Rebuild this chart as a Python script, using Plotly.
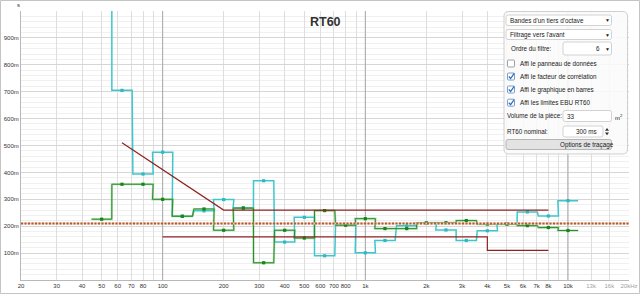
import math
import plotly.graph_objects as go

# ---------------- data ----------------
bands = [50, 63, 80, 100, 125, 160, 200, 250, 315, 400, 500, 630, 800,
         1000, 1250, 1600, 2000, 2500, 3150, 4000, 5000, 6300, 8000, 10000]
cyan_rt = [1.35, 0.705, 0.394, 0.475, 0.237, 0.257, 0.299, 0.269, 0.369, 0.141,
           0.233, 0.090, 0.204, 0.101, 0.147, 0.202, 0.212, 0.186, 0.147, 0.183,
           0.209, 0.253, 0.238, 0.295]
green_rt = [0.226, 0.356, 0.356, 0.300, 0.237, 0.264, 0.185, 0.267, 0.064, 0.185,
            0.156, 0.258, 0.204, 0.228, 0.191, 0.191, 0.212, 0.213, 0.221, 0.208,
            0.208, 0.202, 0.195, 0.184]
ebu_upper_f = [63, 200, 8000]
ebu_upper_v = [0.51, 0.26, 0.26]
ebu_lower_f = [100, 4000, 4000, 8000]
ebu_lower_v = [0.16, 0.16, 0.11, 0.11]
target_f = [20, 20000]
target_v = [0.21, 0.21]

freq_ticks = [20, 30, 40, 50, 60, 70, 80, 90, 100, 200, 300, 400, 500, 600, 700, 800, 900,
              1000, 2000, 3000, 4000, 5000, 6000, 7000, 8000, 9000, 10000, 13000, 16000, 20000]
freq_labels = ["20", "30", "40", "50", "60", "70", "80", " ", "100", "200", "300", "400", "500",
               "600", "700", "800", " ", "1k", "2k", "3k", "4k", "5k", "6k", "7k", "8k", " ",
               "10k", '<span style="color:#a0a0a0">13k</span>',
               '<span style="color:#a0a0a0">16k</span>',
               '<span style="color:#a0a0a0">20kHz</span>']
decades = [100, 1000, 10000]
y_ticks = [0, 0.1, 0.2, 0.3, 0.4, 0.5, 0.6, 0.7, 0.8, 0.9, 1.0]
y_labels = [" ", "100m", "200m", "300m", "400m", "500m", "600m", "700m", "800m", "900m", " "]

FONT = "Liberation Sans"


def step_xy(vals):
    xs, ys = [], []
    for f, v in zip(bands, vals):
        xs += [f * 10 ** -0.05, f * 10 ** 0.05]
        ys += [v, v]
    return xs, ys


fig = go.Figure()

# decade grid lines (darker)
for d in decades:
    fig.add_trace(go.Scatter(x=[d, d], y=[0, 1], mode="lines",
                             line=dict(color="#a9a9a9", width=1), hoverinfo="skip"))

cx, cy = step_xy(cyan_rt)
gx, gy = step_xy(green_rt)

fig.add_trace(go.Scatter(x=cx, y=cy, mode="lines", line=dict(color="#3fc6cc", width=1.5),
                         hoverinfo="skip"))
fig.add_trace(go.Scatter(x=bands, y=cyan_rt, mode="markers",
                         marker=dict(symbol="square", size=3.2, color="#2fb8c0"),
                         hoverinfo="skip"))
fig.add_trace(go.Scatter(x=gx, y=gy, mode="lines",
                         line=dict(color="rgba(110,190,110,0.55)", width=2.2), hoverinfo="skip"))
fig.add_trace(go.Scatter(x=gx, y=gy, mode="lines", line=dict(color="#2a8f2a", width=1),
                         hoverinfo="skip"))
fig.add_trace(go.Scatter(x=bands, y=green_rt, mode="markers",
                         marker=dict(symbol="square", size=3.2, color="#158515"),
                         hoverinfo="skip"))

fig.add_trace(go.Scatter(x=ebu_upper_f, y=ebu_upper_v, mode="lines",
                         line=dict(color="#8e2222", width=1.2), hoverinfo="skip"))
fig.add_trace(go.Scatter(x=ebu_lower_f, y=ebu_lower_v, mode="lines",
                         line=dict(color="#8e2222", width=1.2), hoverinfo="skip"))
fig.add_trace(go.Scatter(x=target_f, y=target_v, mode="lines",
                         line=dict(color="#ebcdb0", width=1.8), hoverinfo="skip"))
fig.add_trace(go.Scatter(x=target_f, y=target_v, mode="lines",
                         line=dict(color="#b4583a", width=1.8, dash="2px,1.5px"), hoverinfo="skip"))

# ---------------- overlay panel (pixel -> paper helpers) ----------------
L, R, T, B = 21, 11, 11, 14
W, H = 640, 294
PW, PH = W - L - R, H - T - B


def X(px):
    return (px - L) / PW


def Y(py):
    return (H - B - py) / PH


shapes = []
annots = []

# outer frame
shapes.append(dict(type="rect", xref="paper", yref="paper",
                   x0=X(0.5), x1=X(639.5), y0=Y(0.5), y1=Y(293.5),
                   line=dict(color="#c4c4c4", width=1), fillcolor="rgba(0,0,0,0)"))


def rrect(x0, y0, x1, y1, r, fill, line, lw=1):
    rx, ry = r / PW, r / PH
    a, b, c, d = X(x0), X(x1), Y(y0), Y(y1)
    path = (f"M {a+rx},{c} L {b-rx},{c} Q {b},{c} {b},{c-ry} L {b},{d+ry} "
            f"Q {b},{d} {b-rx},{d} L {a+rx},{d} Q {a},{d} {a},{d+ry} L {a},{c-ry} "
            f"Q {a},{c} {a+rx},{c} Z")
    shapes.append(dict(type="path", xref="paper", yref="paper", path=path,
                       fillcolor=fill, line=dict(color=line, width=lw)))


def text(px, py, s, anchor="left", size=6.3, color="#202020", bold=False):
    annots.append(dict(xref="paper", yref="paper", x=X(px), y=Y(py), text=s,
                       showarrow=False, xanchor=anchor, yanchor="middle", borderpad=0,
                       font=dict(family=FONT, size=size, color=color,
                                 weight="bold" if bold else "normal")))


rrect(504, 11.5, 627.5, 154, 5, "rgba(250,250,250,0.88)", "#cfcfcf")

# dropdowns
rrect(506, 15, 611.5, 25.5, 2, "#ffffff", "#d2d2d2")
text(509, 20.4, "Bandes d'un tiers d'octave")
text(607, 20.4, "▼", anchor="center", size=5)
rrect(506, 29.5, 611.5, 39.5, 2, "#ffffff", "#d2d2d2")
text(509, 34.6, "Filtrage vers l'avant")
text(607, 34.6, "▼", anchor="center", size=5)
text(510, 48.6, "Ordre du filtre:")
rrect(563, 42, 611.5, 55, 2, "#ffffff", "#d2d2d2")
text(601, 48.6, "6", anchor="right")
text(607, 48.6, "▼", anchor="center", size=5)

# checkboxes
checks = [(63.5, "Affi le panneau de données", False),
          (76.5, "Affi le facteur de corrélation", True),
          (89.5, "Affi le graphique en barres", True),
          (102.7, "Affi les limites EBU RT60", True)]
for yy, label, on in checks:
    rrect(507.5, yy - 3.5, 514.5, yy + 3.5, 1, "#ffffff", "#7f9fc8" if on else "#a0a0a0")
    if on:
        shapes.append(dict(type="path", xref="paper", yref="paper",
                           path=f"M {X(508.8)},{Y(yy)} L {X(510.6)},{Y(yy+2)} L {X(514.2)},{Y(yy-3.2)}",
                           line=dict(color="#2a72c8", width=1.3)))
    text(519, yy, label)

text(506, 116, "Volume de la pièce:")
rrect(563, 110.5, 611.5, 121.5, 2, "#ffffff", "#d2d2d2")
text(566, 116, "33")
text(614, 117, "m<sup>2</sup>", size=6)

text(506, 131.6, "RT60 nominal:")
rrect(563, 126, 603, 137, 2, "#ffffff", "#d2d2d2")
text(597.5, 131.6, "300 ms", anchor="right")
shapes.append(dict(type="path", xref="paper", yref="paper",
                   path=f"M {X(605)},{Y(130.8)} L {X(609)},{Y(130.8)} L {X(607)},{Y(128)} Z",
                   fillcolor="#333333", line=dict(width=0)))
shapes.append(dict(type="path", xref="paper", yref="paper",
                   path=f"M {X(605)},{Y(132.4)} L {X(609)},{Y(132.4)} L {X(607)},{Y(135.2)} Z",
                   fillcolor="#333333", line=dict(width=0)))

rrect(506, 139.5, 611.5, 149.5, 2, "#e3e3e3", "#b4b4b4")
text(558.8, 144.6, "Options de traçage")

# title and unit
text(325, 22, "RT60", anchor="center", size=12.5, color="#333333", bold=True)
text(18.5, 5, "s", anchor="center", size=6, color="#333333")

fig.update_layout(
    width=W, height=H,
    margin=dict(l=L, r=R, t=T, b=B, autoexpand=False),
    paper_bgcolor="#ffffff", plot_bgcolor="#ffffff",
    showlegend=False,
    font=dict(family=FONT, size=6, color="#333333"),
    shapes=shapes, annotations=annots,
    xaxis=dict(type="log", range=[math.log10(20), math.log10(20000)],
               tickmode="array", tickvals=freq_ticks, ticktext=freq_labels,
               tickangle=0, automargin=False,
               showgrid=True, gridcolor="#dedede", gridwidth=1, ticks="",
               tickfont=dict(size=6, color="#333333"),
               showline=True, linecolor="#b8b8b8", zeroline=False, fixedrange=True),
    yaxis=dict(range=[0, 1], tickmode="array", tickvals=y_ticks, ticktext=y_labels,
               automargin=False,
               showgrid=True, gridcolor="#d6d6d6", gridwidth=1, ticks="",
               tickfont=dict(size=6, color="#333333"),
               minor=dict(tick0=0, dtick=0.02, showgrid=True, gridcolor="#f0f0f0", ticks=""),
               showline=True, linecolor="#b8b8b8", zeroline=False, fixedrange=True),
)

fig.write_html("out.html")
